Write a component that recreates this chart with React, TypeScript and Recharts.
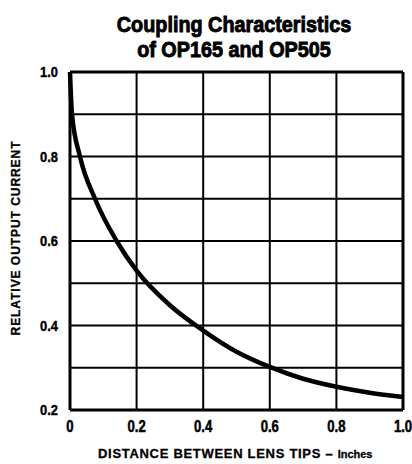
import React from 'react';
import { LineChart, Line, XAxis, YAxis, CartesianGrid, ReferenceLine } from 'recharts';

const distance = [0, 0.006, 0.03, 0.075, 0.14, 0.2, 0.3, 0.4, 0.5, 0.6, 0.7, 0.8, 0.9, 1.0];
const relCurrent = [1.0, 0.9, 0.8, 0.7, 0.6, 0.53, 0.448, 0.388, 0.338, 0.302, 0.274, 0.255, 0.241, 0.231];
const xTicks = [0, 0.2, 0.4, 0.6, 0.8, 1.0];
const xTickLabels = ['0', '0.2', '0.4', '0.6', '0.8', '1.0'];
const yGridTicks = [0.2, 0.3, 0.4, 0.5, 0.6, 0.7, 0.8, 0.9, 1.0];
const yTickLabels = ['0.2', '', '0.4', '', '0.6', '', '0.8', '', '1.0'];

const data = distance.map((d, i) => ({ d, v: relCurrent[i] }));

const FONT = '"Liberation Sans", Arial, sans-serif';

const XTick = (props: any) => {
  const { x, y, index } = props;
  return (
    <text
      transform={`translate(${x},${y + 22}) scale(0.82,1)`}
      textAnchor="middle"
      fontFamily={FONT}
      fontWeight="bold"
      fontSize={16}
      fill="#000"
      stroke="#000"
      strokeWidth={0.5}
    >
      {xTickLabels[index]}
    </text>
  );
};

const YTick = (props: any) => {
  const { x, y, index } = props;
  const label = yTickLabels[index];
  if (!label) return null;
  return (
    <text
      transform={`translate(${x - 12},${y + 5}) scale(0.92,1)`}
      textAnchor="end"
      fontFamily={FONT}
      fontWeight="bold"
      fontSize={14}
      fill="#000"
      stroke="#000"
      strokeWidth={0.4}
    >
      {label}
    </text>
  );
};

export default function App() {
  return (
    <div style={{ position: 'absolute', left: 0, top: 0, width: 412, height: 464, background: '#fff', fontFamily: FONT }}>
      <div
        style={{
          position: 'absolute',
          left: 34,
          top: 12,
          width: 400,
          textAlign: 'center',
          fontSize: 22,
          lineHeight: '25px',
          fontWeight: 700,
          color: '#000',
          transform: 'scaleX(0.9)',
          whiteSpace: 'nowrap',
          WebkitTextStroke: '0.9px #000',
        }}
      >
        <div>Coupling Characteristics</div>
        <div>of OP165 and OP505</div>
      </div>
      <LineChart width={412} height={464} data={data} margin={{ top: 72, right: 9, bottom: 0, left: 0 }}>
        <CartesianGrid stroke="#000" strokeWidth={2} strokeOpacity={1} />
        <XAxis
          dataKey="d"
          type="number"
          domain={[0, 1]}
          ticks={xTicks}
          height={54}
          tickLine={false}
          tickSize={0}
          tickMargin={0}
          axisLine={{ stroke: '#000', strokeWidth: 3 }}
          tick={<XTick />}
          interval={0}
        />
        <YAxis
          type="number"
          domain={[0.2, 1.0]}
          ticks={yGridTicks}
          width={70}
          tickLine={false}
          tickSize={0}
          tickMargin={0}
          axisLine={{ stroke: '#000', strokeWidth: 3 }}
          tick={<YTick />}
          interval={0}
        />
        <ReferenceLine y={1} stroke="#000" strokeWidth={3} />
        <ReferenceLine x={1} stroke="#000" strokeWidth={3} />
        <Line
          type="monotone"
          dataKey="v"
          stroke="#000"
          strokeWidth={4.5}
          dot={false}
          isAnimationActive={false}
        />
      </LineChart>
      <div
        style={{
          position: 'absolute',
          left: 16,
          top: 238,
          transform: 'translate(-50%, -50%) rotate(-90deg)',
          fontSize: 12,
          fontWeight: 700,
          letterSpacing: '0.95px',
          whiteSpace: 'nowrap',
          color: '#000',
          lineHeight: '14px',
          WebkitTextStroke: '0.3px #000',
        }}
      >
        RELATIVE OUTPUT CURRENT
      </div>
      <div
        style={{
          position: 'absolute',
          left: 98,
          top: 446,
          fontSize: 13,
          lineHeight: '15px',
          fontWeight: 700,
          letterSpacing: '0.7px',
          whiteSpace: 'nowrap',
          color: '#000',
          WebkitTextStroke: '0.3px #000',
        }}
      >
        DISTANCE BETWEEN LENS TIPS – <span style={{ fontSize: 11, letterSpacing: 0 }}>Inches</span>
      </div>
    </div>
  );
}
